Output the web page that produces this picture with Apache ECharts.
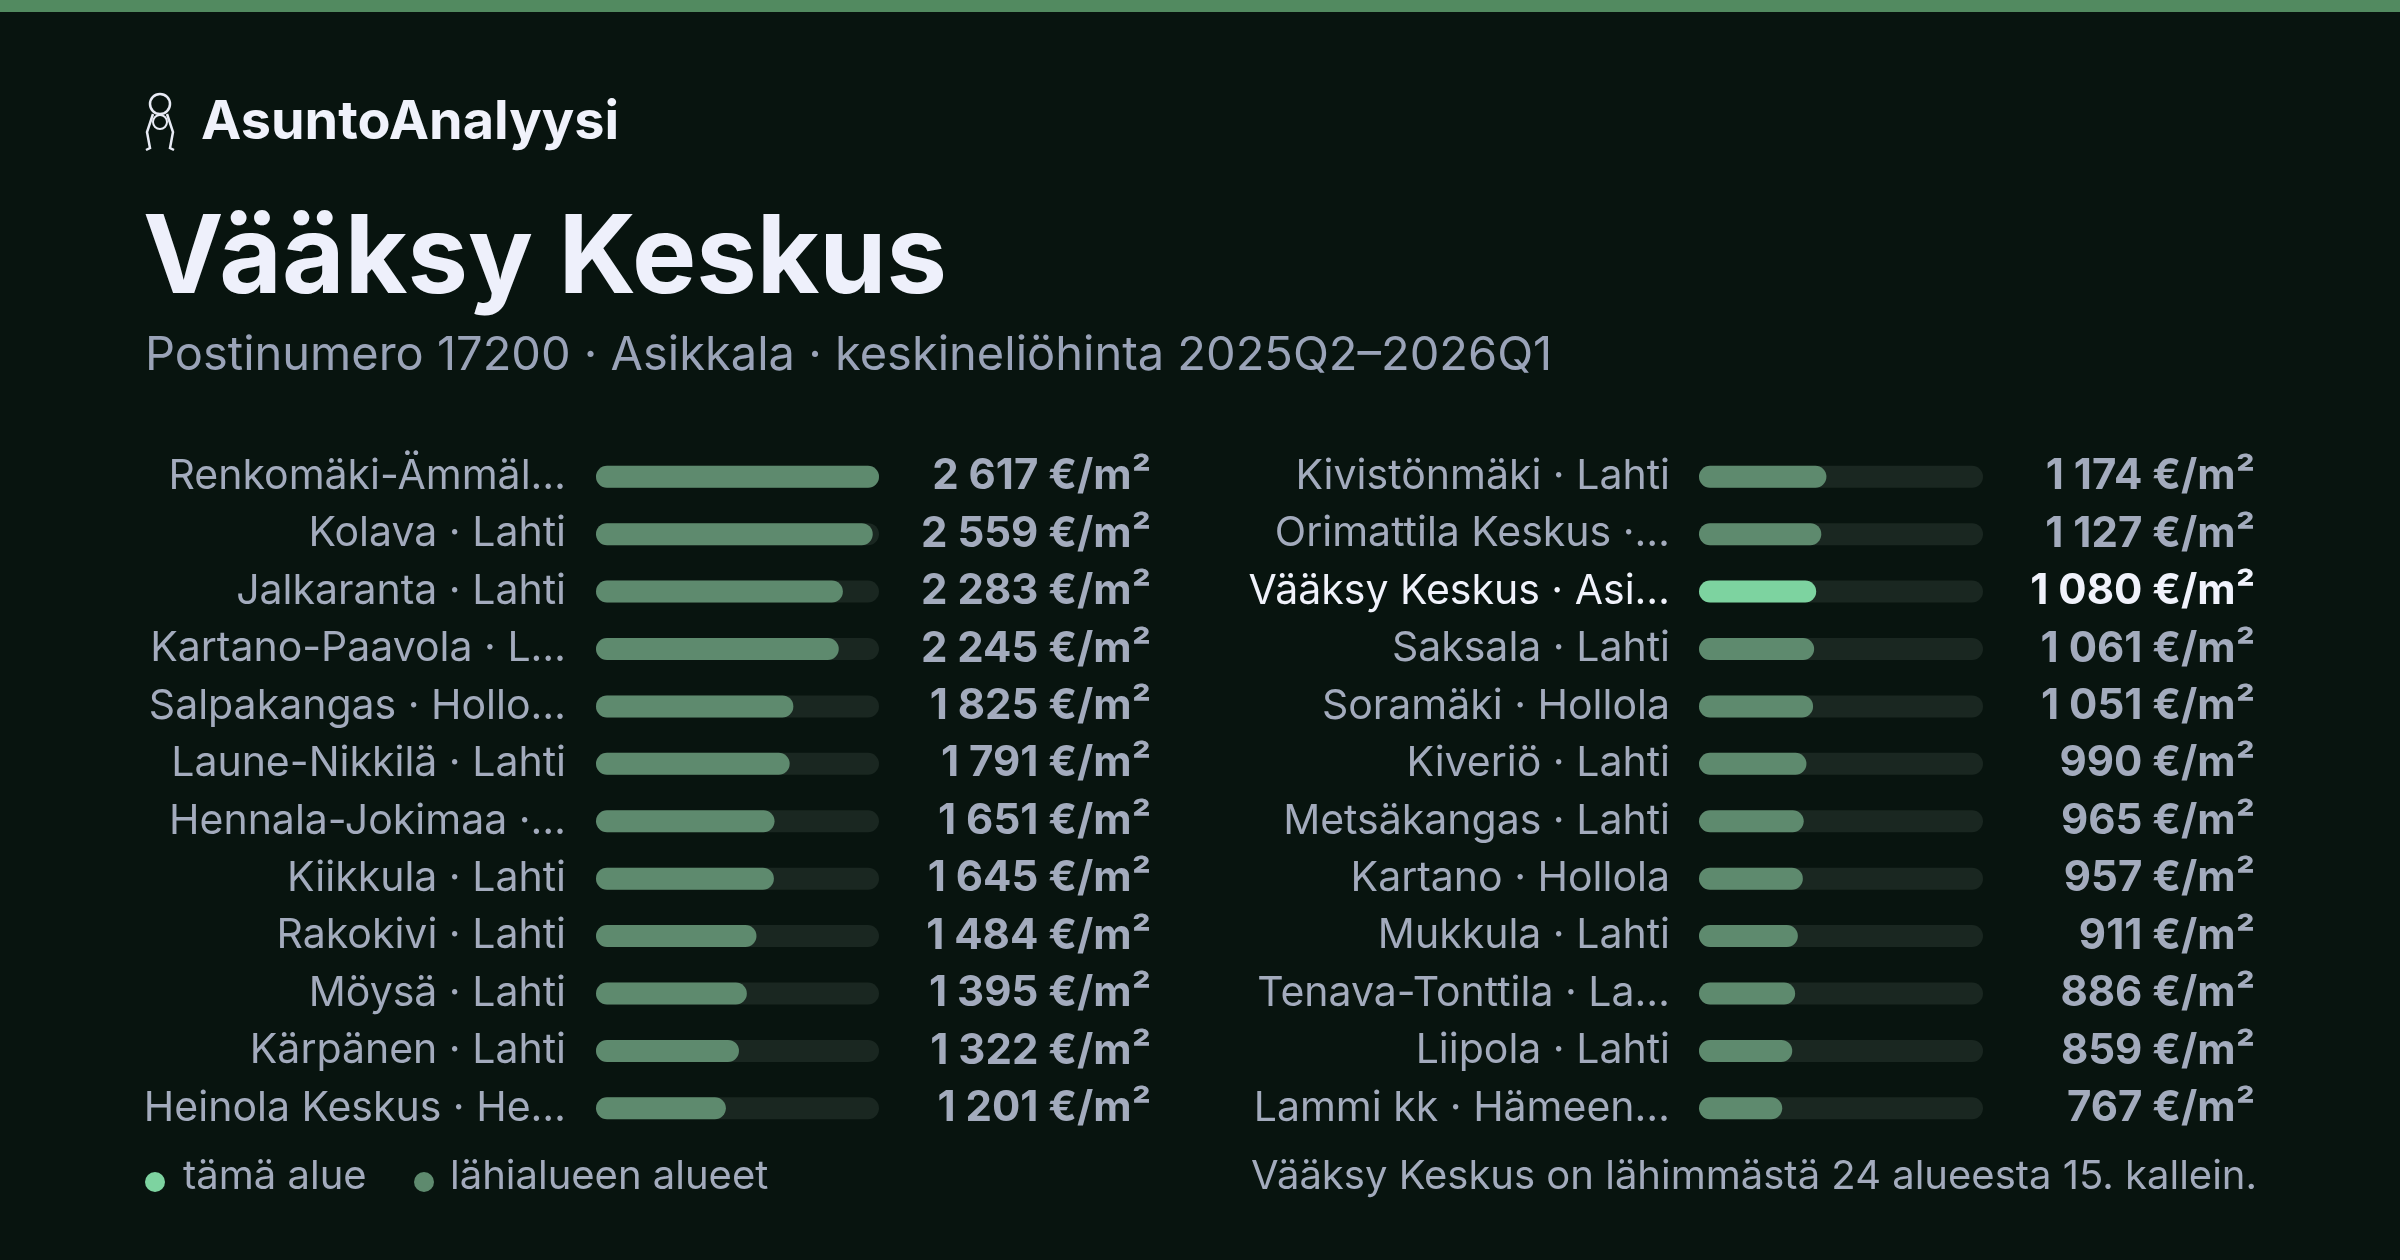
<!DOCTYPE html>
<html>
<head>
<meta charset="utf-8">
<script src="https://cdn.jsdelivr.net/npm/echarts@6/dist/echarts.min.js"></script>
<style>
html, body { margin: 0; padding: 0; background: #08140f; }
#chart { width: 2400px; height: 1260px; }
</style>
</head>
<body>
<div id="chart"></div>
<script>
// lähialueet, kaksi saraketta
var leftNames = ["Renkomäki-Ämmäl…", "Kolava · Lahti", "Jalkaranta · Lahti", "Kartano-Paavola · L…", "Salpakangas · Hollo…", "Laune-Nikkilä · Lahti",
    "Hennala-Jokimaa ·…", "Kiikkula · Lahti", "Rakokivi · Lahti", "Möysä · Lahti", "Kärpänen · Lahti", "Heinola Keskus · He…"];
var leftValues = [2617, 2559, 2283, 2245, 1825, 1791, 1651, 1645, 1484, 1395, 1322, 1201];
var rightNames = ["Kivistönmäki · Lahti", "Orimattila Keskus ·…", "Vääksy Keskus · Asi…", "Saksala · Lahti", "Soramäki · Hollola", "Kiveriö · Lahti",
    "Metsäkangas · Lahti", "Kartano · Hollola", "Mukkula · Lahti", "Tenava-Tonttila · La…", "Liipola · Lahti", "Lammi kk · Hämeen…"];
var rightValues = [1174, 1127, 1080, 1061, 1051, 990, 965, 957, 911, 886, 859, 767];
var highlightName = "Vääksy Keskus · Asi…";

var font = "Inter, 'Noto Sans', sans-serif";
var maxVal = 2617;

function fmt(v) {
    var s = String(v);
    if (s.length > 3) s = s.slice(0, s.length - 3) + " " + s.slice(-3);
    return s + " €/m²";
}

function barData(names, values) {
    var arr = [];
    for (var i = 0; i < values.length; i++) {
        var item = { value: values[i] };
        if (names[i] == highlightName) item.itemStyle = { color: "#7dd3a0" };
        arr.push(item);
    }
    return arr;
}

function labelFmt(names) {
    return function(v) {
        return v == highlightName ? "{h|" + v + "}" : "{n|" + v + "}";
    };
}

var rich = {
    n: { color: "#a3abbd", fontSize: 41, fontFamily: font },
    h: { color: "#f0f2fb", fontSize: 41, fontFamily: font }
};
var richB = {
    n: { color: "#a3abbd", fontSize: 42, fontWeight: "bold", fontFamily: font },
    h: { color: "#f0f2fb", fontSize: 42, fontWeight: "bold", fontFamily: font }
};

function valueFmt(names, values) {
    return function(v, i) {
        var t = fmt(values[i]);
        return names[i] == highlightName ? "{h|" + t + "}" : "{n|" + t + "}";
    };
}

var chart = echarts.init(document.getElementById("chart"));
var option = {
    backgroundColor: "#08140f",
    grid: [
        { left: 596, width: 283, top: 448, height: 689 },
        { left: 1699, width: 284, top: 448, height: 689 }
    ],
    xAxis: [
        { gridIndex: 0, type: "value", min: 0, max: maxVal, show: false },
        { gridIndex: 1, type: "value", min: 0, max: maxVal, show: false }
    ],
    yAxis: [
        { gridIndex: 0, type: "category", inverse: true, data: leftNames, axisLine: { show: false }, axisTick: { show: false },
            axisLabel: { margin: 30, formatter: labelFmt(leftNames), rich: rich } },
        { gridIndex: 0, type: "category", inverse: true, position: "right", data: leftNames, axisLine: { show: false }, axisTick: { show: false },
            axisLabel: { margin: 272, align: "right", formatter: valueFmt(leftNames, leftValues), rich: richB } },
        { gridIndex: 1, type: "category", inverse: true, data: rightNames, axisLine: { show: false }, axisTick: { show: false },
            axisLabel: { margin: 29, formatter: labelFmt(rightNames), rich: rich } },
        { gridIndex: 1, type: "category", inverse: true, position: "right", data: rightNames, axisLine: { show: false }, axisTick: { show: false },
            axisLabel: { margin: 272, align: "right", formatter: valueFmt(rightNames, rightValues), rich: richB } }
    ],
    series: [
        { type: "bar", xAxisIndex: 0, yAxisIndex: 0, data: barData(leftNames, leftValues), barWidth: 22,
            itemStyle: { color: "#5e8a6e", borderRadius: 11 }, showBackground: true,
            backgroundStyle: { color: "#1a2721", borderRadius: 11 }, silent: true },
        { type: "bar", xAxisIndex: 1, yAxisIndex: 2, data: barData(rightNames, rightValues), barWidth: 22,
            itemStyle: { color: "#5e8a6e", borderRadius: 11 }, showBackground: true,
            backgroundStyle: { color: "#1a2721", borderRadius: 11 }, silent: true }
    ],
    graphic: [
        { type: "rect", shape: { x: 0, y: 0, width: 2400, height: 12 }, style: { fill: "#528a60" } },
        // avainikoni
        { type: "circle", shape: { cx: 160, cy: 104, r: 10 }, style: { fill: "none", stroke: "#e8ebf5", lineWidth: 2.5 } },
        { type: "polyline", shape: { points: [[153, 114], [147, 132], [150, 148], [146, 150]] }, style: { fill: "none", stroke: "#e8ebf5", lineWidth: 2.5 } },
        { type: "polyline", shape: { points: [[167, 114], [173, 132], [170, 148], [174, 150]] }, style: { fill: "none", stroke: "#e8ebf5", lineWidth: 2.5 } },
        { type: "circle", shape: { cx: 160, cy: 122, r: 7 }, style: { fill: "none", stroke: "#e8ebf5", lineWidth: 2 } },
        { type: "text", left: 201, top: 96, style: { text: "AsuntoAnalyysi", fill: "#f0f2fb", fontSize: 54, fontWeight: "bold", fontFamily: font } },
        { type: "text", left: 143, top: 207, style: { text: "Vääksy Keskus", fill: "#eef0fb", fontSize: 108, fontWeight: "bold", fontFamily: font } },
        { type: "text", left: 145, top: 332, style: { text: "Postinumero 17200 · Asikkala · keskineliöhinta 2025Q2–2026Q1", fill: "#9aa3b8", fontSize: 47, fontFamily: font } },
        { type: "circle", shape: { cx: 155, cy: 1182, r: 10 }, style: { fill: "#7dd3a0" } },
        { type: "text", left: 183, top: 1157, style: { text: "tämä alue", fill: "#a3abbd", fontSize: 40, fontFamily: font } },
        { type: "circle", shape: { cx: 424, cy: 1182, r: 10 }, style: { fill: "#5e8a6e" } },
        { type: "text", left: 450, top: 1157, style: { text: "lähialueen alueet", fill: "#a3abbd", fontSize: 40, fontFamily: font } },
        { type: "text", right: 143, top: 1157, style: { text: "Vääksy Keskus on lähimmästä 24 alueesta 15. kallein.", fill: "#a3abbd", fontSize: 40, fontFamily: font, align: "right" } }
    ]
};
chart.setOption(option);
</script>
</body>
</html>
